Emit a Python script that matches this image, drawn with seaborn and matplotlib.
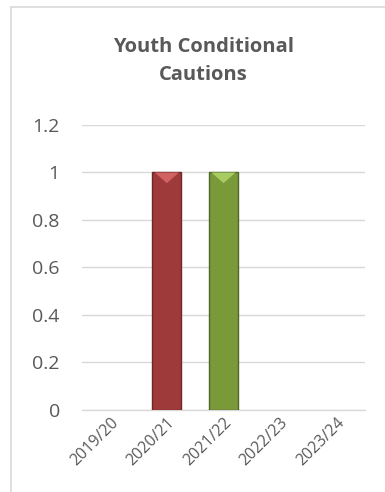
import matplotlib
matplotlib.use("Agg")
import matplotlib.pyplot as plt
from matplotlib.lines import Line2D
from matplotlib.patches import Polygon
import seaborn as sns
import pandas as pd

seasons = ["2019/20", "2020/21", "2021/22", "2022/23", "2023/24"]
cautions = [0, 1, 1, 0, 0]
bar_colors = ["#9E3A3A", "#9E3A3A", "#7A9A3A", "#9E3A3A", "#9E3A3A"]
edge_colors = ["#6E2626", "#6E2626", "#4F6628", "#6E2626", "#6E2626"]
top_colors = ["#D06262", "#D06262", "#A8CC62", "#D06262", "#D06262"]
y_ticks = [0, 0.2, 0.4, 0.6, 0.8, 1, 1.2]
y_labels = ["0", "0.2", "0.4", "0.6", "0.8", "1", "1.2"]

sns.set_theme(style="white")
plt.rcParams["font.family"] = ["Open Sans", "DejaVu Sans"]

df = pd.DataFrame({"season": seasons, "value": cautions})

fig = plt.figure(figsize=(3.85, 4.92), dpi=100)
ax = fig.add_axes([0.213, 0.1667, 0.735, 0.5793])

sns.barplot(data=df, x="season", y="value", hue="season", palette=bar_colors,
            saturation=1, legend=False, width=0.51, ax=ax, zorder=3, linewidth=1.0)

# bevelled top on each bar; empty bars get no outline
for patch, ec, tc in zip(ax.patches, edge_colors, top_colors):
    patch.set_edgecolor(ec)
    h = patch.get_height()
    if h <= 0:
        patch.set_linewidth(0)
        continue
    x0 = patch.get_x()
    w = patch.get_width()
    top = patch.get_y() + h
    depth = 0.045
    tri = Polygon([[x0 + w * 0.08, top], [x0 + w * 0.92, top], [x0 + w / 2, top - depth]],
                  closed=True, facecolor=tc, edgecolor="none", zorder=4)
    ax.add_patch(tri)

ax.set_ylim(0, 1.2)
ax.set_yticks(y_ticks)
ax.set_yticklabels(y_labels)
ax.yaxis.grid(True, color="#D9D9D9", linewidth=1.0, zorder=0)
ax.set_axisbelow(True)
for s in ["left", "right", "top"]:
    ax.spines[s].set_visible(False)
ax.spines["bottom"].set_color("#D9D9D9")
ax.spines["bottom"].set_linewidth(1.0)
ax.set_xlabel("")
ax.set_ylabel("")
ax.tick_params(axis="y", length=0, pad=16, labelsize=14, labelcolor="#595959")
ax.tick_params(axis="x", length=0, pad=3, labelsize=11.5, labelcolor="#595959")
for lbl in ax.get_xticklabels():
    lbl.set_rotation(45)
    lbl.set_ha("right")
    lbl.set_rotation_mode("anchor")

fig.text(0.528, 0.876, "Youth Conditional\nCautions", ha="center", va="center",
         fontsize=14.5, fontweight="bold", color="#595959", linespacing=1.55)

# chart frame
fig.add_artist(Line2D([11 / 385, 11 / 385], [0, 1 - 7 / 492], color="#D9D9D9", linewidth=1.2))
fig.add_artist(Line2D([11 / 385, 1], [1 - 7 / 492, 1 - 7 / 492], color="#D9D9D9", linewidth=1.2))

fig.savefig("out.png", dpi=100)
